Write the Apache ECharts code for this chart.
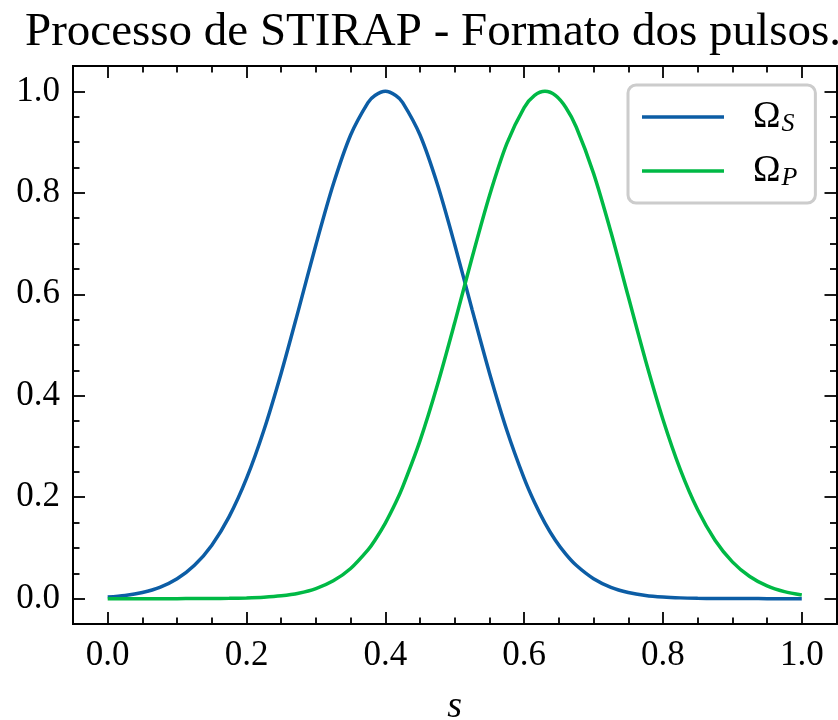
<!DOCTYPE html>
<html><head><meta charset="utf-8">
<script src="https://cdn.jsdelivr.net/npm/echarts@6/dist/echarts.min.js"></script>
<style>html,body{margin:0;padding:0;background:#fff}#c{width:838px;height:720px}</style>
</head><body><div id="c"></div>
<script>
// s grid (x values)
const sValues = [0, 0.025, 0.05, 0.075, 0.1, 0.125, 0.15, 0.175, 0.2, 0.225, 0.25, 0.275, 0.3, 0.325, 0.35, 0.375, 0.385, 0.4, 0.415, 0.425, 0.45, 0.475, 0.5, 0.525, 0.55, 0.575, 0.6, 0.615, 0.63, 0.645, 0.66, 0.675, 0.7, 0.725, 0.75, 0.775, 0.8, 0.825, 0.85, 0.875, 0.9, 0.925, 0.95, 0.975, 1.0];
// Omega_S (blue)
const omegaS = [0.0032, 0.0063, 0.0122, 0.0223, 0.0392, 0.0657, 0.1054, 0.1616, 0.2369, 0.3320, 0.4449, 0.5698, 0.6977, 0.8167, 0.9139, 0.9778, 0.9919, 1.0, 0.9919, 0.9778, 0.9139, 0.8167, 0.6977, 0.5698, 0.4449, 0.3320, 0.2369, 0.1894, 0.1490, 0.1152, 0.0877, 0.0657, 0.0392, 0.0223, 0.0122, 0.0063, 0.0032, 0.0015, 0.0007, 0.0003, 0.0001, 0.0001, 0, 0, 0];
// Omega_P (green)
const omegaP = [0, 0, 0, 0, 0, 0.0001, 0.0003, 0.0006, 0.0013, 0.0027, 0.0055, 0.0107, 0.0198, 0.0351, 0.0595, 0.0962, 0.1152, 0.1490, 0.1894, 0.2203, 0.3115, 0.4211, 0.5442, 0.6724, 0.7942, 0.8968, 0.9681, 0.9919, 1.0, 0.9919, 0.9681, 0.9297, 0.8383, 0.7226, 0.5955, 0.4691, 0.3533, 0.2544, 0.1751, 0.1152, 0.0725, 0.0436, 0.0251, 0.0138, 0.0072];
// tick values
const xMajorTicks = [0, 0.2, 0.4, 0.6, 0.8, 1.0];
const yMajorTicks = [0, 0.2, 0.4, 0.6, 0.8, 1.0];
const xMinorTicks = [-0.05, 0.05, 0.1, 0.15, 0.25, 0.3, 0.35, 0.45, 0.5, 0.55, 0.65, 0.7, 0.75, 0.85, 0.9, 0.95, 1.05];
const yMinorTicks = [-0.05, 0.05, 0.1, 0.15, 0.25, 0.3, 0.35, 0.45, 0.5, 0.55, 0.65, 0.7, 0.75, 0.85, 0.9, 0.95, 1.05];
const titleText = 'Processo de STIRAP - Formato dos pulsos.';
const seriesNames = ['ΩS', 'ΩP'];
const seriesSubs = ['S', 'P'];
const colors = ['#0C5DA5', '#00B945'];

const FONT = '"Liberation Serif", "DejaVu Serif", serif';
const lineBase = { show: true, onZero: false, lineStyle: { color: '#000', width: 2 } };

function axis(kind, pos, ticks, len, withLabels) {
  const a = {
    type: 'value', position: pos, min: -0.05, max: 1.05,
    splitLine: { show: false },
    axisLine: lineBase,
    axisTick: { show: true, inside: true, length: len, customValues: ticks, lineStyle: { color: '#000', width: 1.8 } },
    axisLabel: { show: false }
  };
  if (withLabels) {
    a.axisLabel = {
      show: true, customValues: ticks, formatter: v => Number(v).toFixed(1),
      fontFamily: FONT, fontSize: 35, color: '#000', margin: kind === 'x' ? 14 : 13
    };
  }
  return a;
}

const xAxes = [
  axis('x', 'bottom', xMajorTicks, 12, true),
  axis('x', 'bottom', xMinorTicks, 6.5, false),
  axis('x', 'top', xMajorTicks, 12, false),
  axis('x', 'top', xMinorTicks, 6.5, false)
];
xAxes[0].name = 's';
xAxes[0].nameLocation = 'middle';
xAxes[0].nameGap = 64;
xAxes[0].nameTextStyle = { fontFamily: FONT, fontStyle: 'italic', fontSize: 38, color: '#000' };

const yAxes = [
  axis('y', 'left', yMajorTicks, 12, true),
  axis('y', 'left', yMinorTicks, 6.5, false),
  axis('y', 'right', yMajorTicks, 12, false),
  axis('y', 'right', yMinorTicks, 6.5, false)
];

const chart = echarts.init(document.getElementById('c'), null, { renderer: 'canvas' });
chart.setOption({
  animation: false,
  backgroundColor: '#fff',
  title: {
    text: titleText, left: 428, top: 4, textAlign: 'center',
    textStyle: { fontFamily: FONT, fontSize: 47, fontWeight: 'normal', color: '#000' }
  },
  grid: { left: 73, right: 1.5, top: 66, bottom: 96, containLabel: false, outerBoundsMode: 'none' },
  xAxis: xAxes,
  yAxis: yAxes,
  legend: {
    left: 628, top: 85,
    orient: 'vertical',
    backgroundColor: '#fff',
    borderColor: '#cccccc', borderWidth: 3, borderRadius: 8,
    padding: [12, 18, 12, 14],
    itemGap: 14,
    itemWidth: 82, itemHeight: 3.5,
    icon: 'rect',
    data: seriesNames,
    formatter: name => {
      const i = seriesNames.indexOf(name);
      return '{sp|}{o|Ω}{sub|' + seriesSubs[i] + '}';
    },
    textStyle: {
      color: '#000',
      rich: {
        sp: { width: 24, height: 40 },
        o: { fontFamily: FONT, fontSize: 37, color: '#000', height: 40, lineHeight: 40 },
        sub: { fontFamily: FONT, fontSize: 26, fontStyle: 'italic', color: '#000', verticalAlign: 'bottom', padding: [14, 0, 0, 1], lineHeight: 40 }
      }
    }
  },
  series: [
    {
      name: seriesNames[0], type: 'line', xAxisIndex: 0, yAxisIndex: 0,
      data: sValues.map((s, i) => [s, omegaS[i]]),
      showSymbol: false, smooth: 0.3,
      lineStyle: { color: colors[0], width: 3.5 }, itemStyle: { color: colors[0] }
    },
    {
      name: seriesNames[1], type: 'line', xAxisIndex: 0, yAxisIndex: 0,
      data: sValues.map((s, i) => [s, omegaP[i]]),
      showSymbol: false, smooth: 0.3,
      lineStyle: { color: colors[1], width: 3.5 }, itemStyle: { color: colors[1] }
    }
  ]
});
</script>
</body></html>
